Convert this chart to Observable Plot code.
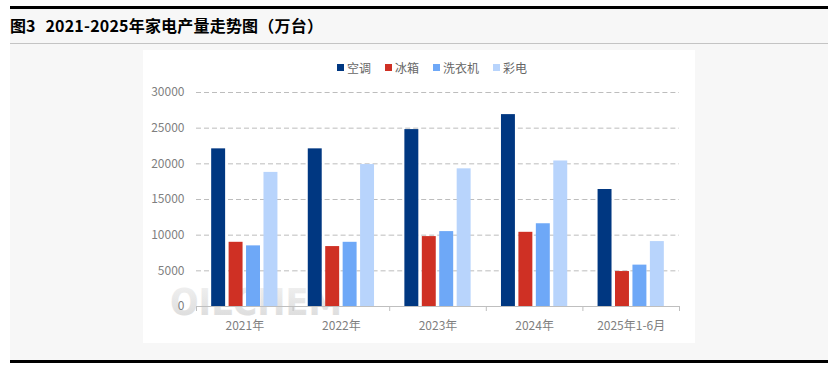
<!DOCTYPE html>
<html>
<head>
<meta charset="utf-8">
<script src="https://cdn.jsdelivr.net/npm/d3@7"></script>
<script src="https://cdn.jsdelivr.net/npm/@observablehq/plot@0.6"></script>
<style>
  body { margin: 0; background: #ffffff; font-family: "Noto Sans CJK SC", "Noto Sans", sans-serif; }
  #page { position: relative; width: 831px; height: 367px; overflow: hidden; }
  .abs { position: absolute; }
  #legend { position: absolute; left: 194px; top: 9px; display: flex; align-items: center; font-size: 12px; color: #666666; white-space: nowrap; }
  #legend .item { display: flex; align-items: center; margin-right: 14px; }
  #legend .sw { width: 7px; height: 7px; margin-right: 3px; }
</style>
</head>
<body>
<div id="page">
  <div class="abs" style="left:10px;top:6px;width:818px;height:3px;background:#000"></div>
  <div class="abs" style="left:10px;top:9px;width:818px;height:351px;background:#f7f7f7"></div>
  <div class="abs" style="left:10px;top:42.5px;width:818px;height:1.5px;background:#c4c4c4"></div>
  <div class="abs" style="left:10px;top:15px;font-size:16px;line-height:20px;font-weight:bold;color:#000;white-space:nowrap"><span>图3</span><span style="margin-left:10px;letter-spacing:0.2px">2021-2025年家电产量走势图（万台）</span></div>
  <div class="abs" style="left:10px;top:360px;width:818px;height:2.5px;background:#000"></div>
  <div id="panel" class="abs" style="left:143px;top:50px;width:552px;height:293px;background:#ffffff">
    <svg class="abs" style="left:0;top:0" width="552" height="293">
      <defs>
        <linearGradient id="wm" x1="0" y1="0" x2="0" y2="1">
          <stop offset="0" stop-color="#f3f3f3"/>
          <stop offset="1" stop-color="#d9d9d9"/>
        </linearGradient>
      </defs>
      <text x="27" y="265" font-family="DejaVu Sans" font-weight="bold" font-size="38" fill="url(#wm)" textLength="172" lengthAdjust="spacingAndGlyphs">OILCHEM</text>
    </svg>
    <div id="legend"></div>
    <div id="chart" class="abs" style="left:0;top:30px"></div>
  </div>
</div>
<script>
const years = ["2021年", "2022年", "2023年", "2024年", "2025年1-6月"];
const series = ["空调", "冰箱", "洗衣机", "彩电"];
const airCon = [22100, 22100, 24800, 26900, 16400];
const fridge = [9000, 8400, 9800, 10400, 4900];
const washer = [8500, 9000, 10500, 11600, 5800];
const tv = [18800, 19900, 19300, 20400, 9100];
const colors = ["#003781", "#cf3024", "#6ea8f7", "#b8d4fc"];
const yTicks = [0, 5000, 10000, 15000, 20000, 25000, 30000];

const valuesBySeries = [airCon, fridge, washer, tv];
const rows = [];
years.forEach((yr, i) => {
  series.forEach((s, j) => rows.push({year: yr, series: s, value: valuesBySeries[j][i]}));
});

// legend
const legend = document.getElementById("legend");
series.forEach((s, j) => {
  const it = document.createElement("div");
  it.className = "item";
  const sw = document.createElement("span");
  sw.className = "sw";
  sw.style.background = colors[j];
  const tx = document.createElement("span");
  tx.textContent = s;
  it.appendChild(sw); it.appendChild(tx);
  legend.appendChild(it);
});

const W = 552, H = 263, ML = 53, MR = 16, MT = 12, MB = 37;
const step = (W - ML - MR) / years.length;
const font = "'Noto Sans CJK SC', 'Noto Sans', sans-serif";

const chart = Plot.plot({
  width: W, height: H,
  marginLeft: ML, marginRight: MR, marginTop: MT, marginBottom: MB,
  style: {fontFamily: font, fontSize: "12px", background: "transparent", color: "#7f7f7f"},
  fx: {domain: years, padding: 0, label: null, round: false},
  x: {domain: series, paddingInner: 0.2, paddingOuter: 0.87, axis: null, round: false},
  y: {domain: [0, 30000], label: null},
  color: {domain: series, range: colors},
  marks: [
    Plot.gridY({ticks: yTicks, stroke: "#bdbdbd", strokeOpacity: 1, strokeDasharray: "5,3"}),
    Plot.axisY({ticks: yTicks, tickSize: 0, tickPadding: 12, tickFormat: d3.format("d"), label: null, fill: "#7f7f7f"}),
    Plot.barY(rows, {fx: "year", x: "series", y: "value", fill: "series"}),
    Plot.ruleY([0], {stroke: "#bfbfbf", strokeWidth: 1.2}),
    Plot.axisFx({anchor: "bottom", tickSize: 0, tickPadding: 15, label: null, fill: "#7f7f7f"}),
    Plot.axisFx({anchor: "bottom", tickSize: 5, tickFormat: () => "", dx: -step / 2, stroke: "#bfbfbf", label: null}),
    Plot.axisFx({anchor: "bottom", ticks: [years[years.length - 1]], tickSize: 5, tickFormat: () => "", dx: step / 2, stroke: "#bfbfbf", label: null})
  ]
});
document.getElementById("chart").appendChild(chart);
</script>
</body>
</html>
